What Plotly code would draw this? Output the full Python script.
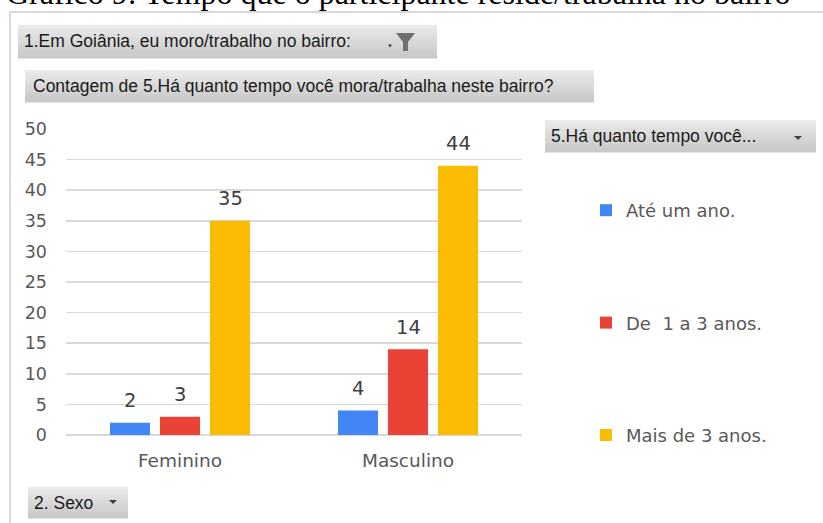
import plotly.graph_objects as go

categories = ["Feminino", "Masculino"]
series_names = ["Até um ano.", "De  1 a 3 anos.", "Mais de 3 anos."]
series_values = {
    "Até um ano.": [2, 4],
    "De  1 a 3 anos.": [3, 14],
    "Mais de 3 anos.": [35, 44],
}
series_colors = ["#4285F4", "#EA4335", "#FBBC04"]
y_ticks = [0, 5, 10, 15, 20, 25, 30, 35, 40, 45, 50]

W, H = 823, 523
BARGAP = 0.342
BARGROUPGAP = 0.2
CHART_FONT = "DejaVu Sans, Verdana, sans-serif"
BTN_FONT = "Liberation Sans, Arial, sans-serif"


def px(x):
    return x / W


def py(y):
    return 1 - y / H


fig = go.Figure()
for i, name in enumerate(series_names):
    fig.add_trace(go.Bar(
        x=categories, y=series_values[name], name=name,
        marker=dict(color=series_colors[i], line=dict(width=0)),
        legendgroup=name, hoverinfo="skip",
    ))

annotations = []
shapes = []

# value labels above bars
n = len(series_names)
slot = (1 - BARGAP) / n
for i, name in enumerate(series_names):
    for ci, v in enumerate(series_values[name]):
        annotations.append(dict(
            x=ci + (i - (n - 1) / 2) * slot, y=v, xref="x", yref="y",
            text=str(v), showarrow=False, yanchor="middle", yshift=22,
            font=dict(family=CHART_FONT, size=19.5, color="#404040"),
        ))

# title (cut at top)
annotations.append(dict(
    x=px(4), y=py(-7), xref="paper", yref="paper", xanchor="left", yanchor="middle",
    text="Gráfico 9: Tempo que o participante reside/trabalha no bairro",
    showarrow=False,
    font=dict(family="Liberation Serif, Times New Roman, serif", size=32, color="#000000"),
))

# frame
shapes.append(dict(type="line", xref="paper", yref="paper",
                   x0=px(10), x1=px(830), y0=py(12), y1=py(12),
                   line=dict(color="#d9d9d9", width=2)))
shapes.append(dict(type="line", xref="paper", yref="paper",
                   x0=px(10), x1=px(10), y0=py(12), y1=py(530),
                   line=dict(color="#d9d9d9", width=2)))


def button(x0, y0, x1, y1, text, tx):
    steps = 12
    top = (234, 234, 234)
    bot = (200, 200, 200)
    h = (y1 - y0) / steps
    for s in range(steps):
        t = s / (steps - 1)
        c = tuple(int(top[k] + (bot[k] - top[k]) * t) for k in range(3))
        shapes.append(dict(type="rect", xref="paper", yref="paper",
                           x0=px(x0), x1=px(x1), y0=py(y0 + s * h), y1=py(y0 + (s + 1) * h + 0.5),
                           fillcolor="rgb(%d,%d,%d)" % c, line=dict(width=0), layer="below"))
    annotations.append(dict(
        x=px(tx), y=py((y0 + y1) / 2), xref="paper", yref="paper",
        xanchor="left", yanchor="middle", text=text, showarrow=False,
        font=dict(family=BTN_FONT, size=17.5, color="#1a1a1a"),
    ))


def tri(cx, cy, w, h, color):
    path = "M%f,%f L%f,%f L%f,%f Z" % (px(cx - w / 2), py(cy - h / 2), px(cx + w / 2), py(cy - h / 2), px(cx), py(cy + h / 2))
    shapes.append(dict(type="path", xref="paper", yref="paper", path=path,
                       fillcolor=color, line=dict(width=0)))


button(18, 25, 437, 58, "1.Em Goiânia, eu moro/trabalho no bairro:", 22)
button(25, 70, 594, 102, "Contagem de 5.Há quanto tempo você mora/trabalha neste bairro?", 31)
button(545, 120, 816, 152, "5.Há quanto tempo você...", 549)
button(28, 487, 128, 518, "2. Sexo", 32)

# funnel icon
fpath = "M%f,%f L%f,%f L%f,%f L%f,%f L%f,%f L%f,%f Z" % (
    px(396), py(33), px(415), py(33), px(408), py(42),
    px(408), py(51), px(403), py(51), px(403), py(42))
shapes.append(dict(type="path", xref="paper", yref="paper", path=fpath,
                   fillcolor="#6f6f6f", line=dict(width=0)))
tri(390, 46, 4, 3, "#404040")
tri(798, 138, 8, 4, "#404040")
tri(113, 502, 8, 4, "#404040")

fig.update_layout(
    width=W, height=H,
    margin=dict(l=0, r=0, t=0, b=0, autoexpand=False),
    paper_bgcolor="white", plot_bgcolor="white",
    barmode="group", bargap=BARGAP, bargroupgap=BARGROUPGAP,
    showlegend=True,
    legend=dict(x=px(586), y=py(192), xanchor="left", yanchor="top",
                font=dict(family=CHART_FONT, size=18, color="#595959"),
                tracegroupgap=86, itemclick=False, itemdoubleclick=False,
                bgcolor="rgba(0,0,0,0)"),
    xaxis=dict(domain=[px(66), px(522)], showgrid=False, showline=False,
               zeroline=False, ticks="", ticklabelstandoff=12,
               tickfont=dict(family=CHART_FONT, size=18.5, color="#595959")),
    yaxis=dict(domain=[py(435), py(129)], range=[0, 50], tickvals=y_ticks,
               showgrid=True, gridcolor="#d9d9d9", gridwidth=1.5,
               zeroline=True, zerolinecolor="#d9d9d9", zerolinewidth=1.5,
               showline=False, ticks="", ticklabelstandoff=18,
               tickfont=dict(family=CHART_FONT, size=17.5, color="#595959")),
    annotations=annotations, shapes=shapes,
)

fig.write_html(
    "out.html",
    config={"displayModeBar": False, "staticPlot": True},
    post_script=(
        "document.body.style.margin='0';document.body.style.overflow='hidden';"
        "var d=document.getElementById('{plot_id}');"
        "d.style.position='fixed';d.style.left='0px';d.style.top='0px';"
    ),
)
